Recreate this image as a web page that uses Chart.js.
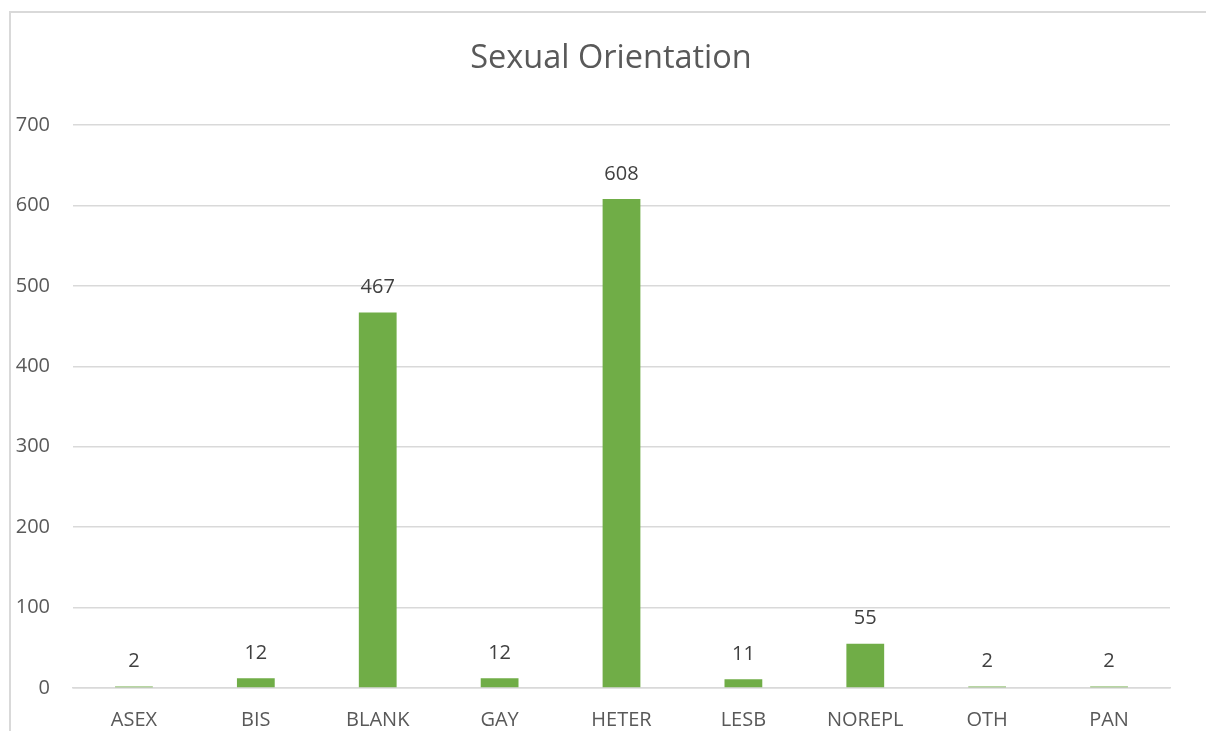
<!DOCTYPE html>
<html lang="en">
<head>
  <meta charset="UTF-8">
  <title>Sexual Orientation</title>
  <script src="https://cdn.jsdelivr.net/npm/chart.js"></script>
  <style>
    body {
      margin: 0;
      background: #ffffff;
      font-family: "Open Sans", Arial, sans-serif;
    }
    #wrap {
      position: relative;
      width: 1206px;
      height: 731px;
    }
    #frame {
      position: absolute;
      left: 9px;
      top: 11px;
      width: 1300px;
      height: 800px;
      border-left: 2px solid #d9d9d9;
      border-top: 2px solid #d9d9d9;
      pointer-events: none;
    }
  </style>
</head>
<body>
  <div id="wrap">
    <canvas id="orientationChart" width="1206" height="731"></canvas>
    <div id="frame"></div>
  </div>

  <script>
    // chart data
    const categories = ['ASEX', 'BIS', 'BLANK', 'GAY', 'HETER', 'LESB', 'NOREPL', 'OTH', 'PAN'];
    const counts = [2, 12, 467, 12, 608, 11, 55, 2, 2];
    const yTicks = [0, 100, 200, 300, 400, 500, 600, 700];
    const chartTitle = 'Sexual Orientation';

    const textColor = '#595959';
    const fontFamily = '"Open Sans", Arial, sans-serif';

    // title is centred on the whole frame, not on the plot area
    const frameTitle = {
      id: 'frameTitle',
      afterDraw(chart) {
        const ctx = chart.ctx;
        ctx.save();
        ctx.font = '32.5px ' + fontFamily;
        ctx.fillStyle = textColor;
        ctx.textAlign = 'center';
        ctx.textBaseline = 'middle';
        ctx.fillText(chartTitle, 611, 59);
        ctx.restore();
      }
    };

    // writes the value above each bar
    const valueLabels = {
      id: 'valueLabels',
      afterDatasetsDraw(chart) {
        const ctx = chart.ctx;
        const meta = chart.getDatasetMeta(0);
        ctx.save();
        ctx.font = '20px ' + fontFamily;
        ctx.fillStyle = '#404040';
        ctx.textAlign = 'center';
        ctx.textBaseline = 'middle';
        meta.data.forEach((bar, i) => {
          ctx.fillText(String(counts[i]), bar.x, bar.y - 25);
        });
        ctx.restore();
      }
    };

    const ctx = document.getElementById('orientationChart').getContext('2d');
    const chart = new Chart(ctx, {
      type: 'bar',
      data: {
        labels: categories,
        datasets: [{
          label: 'Count',
          data: counts,
          backgroundColor: '#70ad47',
          borderWidth: 0,
          barPercentage: 0.31,
          categoryPercentage: 1.0
        }]
      },
      options: {
        responsive: false,
        animation: false,
        layout: {
          padding: { left: 0, right: 36, top: 125, bottom: 0 }
        },
        plugins: {
          legend: { display: false },
          tooltip: { enabled: false },
          title: { display: false }
        },
        scales: {
          x: {
            grid: { display: false, drawTicks: false },
            border: { display: true, color: '#d9d9d9', width: 1.5 },
            ticks: {
              color: textColor,
              font: { family: fontFamily, size: 20 },
              padding: 20,
              maxRotation: 0
            },
            afterFit(scale) { scale.height = 43; }
          },
          y: {
            min: 0,
            max: 700,
            afterBuildTicks(scale) {
              scale.ticks = yTicks.map(v => ({ value: v }));
            },
            grid: { color: '#d9d9d9', lineWidth: 1.5, drawTicks: false },
            border: { display: false },
            ticks: {
              color: textColor,
              font: { family: fontFamily, size: 20 },
              padding: 23
            },
            afterFit(scale) { scale.width = 73; }
          }
        }
      },
      plugins: [valueLabels, frameTitle]
    });
  </script>
</body>
</html>
